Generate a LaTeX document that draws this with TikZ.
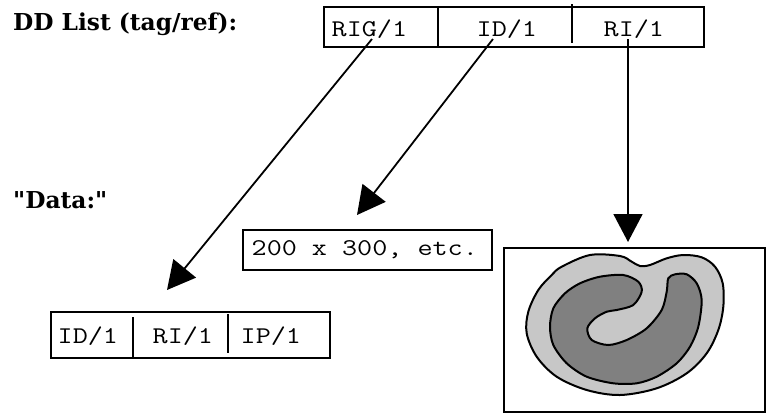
\documentclass[tikz,border=0pt]{standalone}
\usepackage{fontspec}
\newfontfamily\monof{Latin Modern Mono}[FakeStretch=1.22,Ligatures=TeXOff]
\newfontfamily\lblf{DejaVu Serif}[Ligatures=TeXOff]
\usetikzlibrary{arrows.meta}
\begin{document}
\begin{tikzpicture}[x=1pt,y=-1pt,
  boxline/.style={line width=2pt},
  cell/.style={inner sep=0pt,anchor=base west,font=\monof\fontsize{24}{30}\selectfont},
  lbl/.style={inner sep=0pt,anchor=base west,font=\lblf\fontsize{23.3}{30}\selectfont\bfseries},
  ptr/.style={line width=1.8pt,-{Triangle[length=28pt,width=29pt]}},
  lightfill/.style={fill=black!22,draw=black,line width=2pt},
  darkfill/.style={fill=black!50,draw=black,line width=2pt}]
\useasboundingbox (0,0) rectangle (766,413);

% labels
\node[lbl] (ddlabel) at (13,30) {DD List (tag/ref):};
\node[lbl] (datalabel) at (13,208) {\char"22 Data:\char"22};

% top DD list box
\node[boxline,draw,minimum width=380pt,minimum height=40pt,inner sep=0pt,anchor=north west] (ddbox) at (323,6) {};
\draw[boxline] (438,6) -- (438,46);
\draw[boxline] (572,4) -- (572,43);
\node[cell] (rig) at (331.5,36) {RIG/1};
\node[cell] (idtop) at (476.5,36) {ID/1};
\node[cell] (ritop) at (603.5,36) {RI/1};

% 200 x 300 box
\node[boxline,draw,minimum width=249pt,minimum height=40pt,inner sep=0pt,anchor=north west] (dimbox) at (242,229) {};
\node[cell] (dimtext) at (251.5,255) {200 x 300, etc.};

% bottom-left list box
\node[boxline,draw,minimum width=279pt,minimum height=46pt,inner sep=0pt,anchor=north west] (listbox) at (50,311) {};
\draw[boxline] (133,317) -- (133,357);
\draw[boxline] (228,314) -- (228,353);
\node[cell] (idb) at (57.5,343) {ID/1};
\node[cell] (rib) at (152.5,343) {RI/1};
\node[cell] (ipb) at (240.5,343) {IP/1};

% image box
\node[boxline,draw,minimum width=261pt,minimum height=164pt,inner sep=0pt,anchor=north west] (imgbox) at (503,247) {};

% blob
\draw[lightfill] plot[smooth cycle,tension=0.55] coordinates {
 (561.7,266.7) (590,255) (620,256) (631.7,261.7) (640,266) (650,265)
 (666.7,258.3) (683.3,255) (701.7,257.3) (715,266.7) (722.7,283.3)
 (723.3,306.7) (718.3,330) (706.7,353.3) (686.7,373.3) (656.7,388.3)
 (620,395) (586.7,390) (556.7,376.7) (536.7,356.7) (526.7,333.3)
 (528.3,311.7) (538.3,290) (551.7,275)};
\draw[darkfill] plot[smooth cycle,tension=0.5] coordinates {
 (600,276.7) (623.3,275) (638.3,281.7) (641.7,291.7) (633.3,305)
 (616.7,310) (606.7,311.7) (595,318.3) (587.3,328.3) (591.7,340)
 (608.3,345) (626.7,340) (646.7,328.3) (661.7,310) (666.7,291.7)
 (668.3,278.3) (675,274.3) (686.7,274.3) (696.7,283.3) (701.7,300)
 (698.3,326.7) (690,346.7) (676.7,363.3) (656.7,376.7) (636.7,383.3)
 (613.3,383.3) (586.7,376.7) (566.7,363.3) (553.3,345) (550,326.7)
 (553.3,308.3) (565,293.3) (580,283.3)};

% arrow ends
\coordinate (rigstart) at (372,39);
\coordinate (idstart) at (493,39);
\coordinate (ristart) at (628,39);
\coordinate (rigtip) at (167,290);
\coordinate (idtip) at (357,215);
\coordinate (ritip) at (628,242);

\draw[ptr] (rigstart) -- (rigtip);
\draw[ptr] (idstart) -- (idtip);
\draw[ptr] (ristart) -- (ritip);
\end{tikzpicture}
\end{document}
